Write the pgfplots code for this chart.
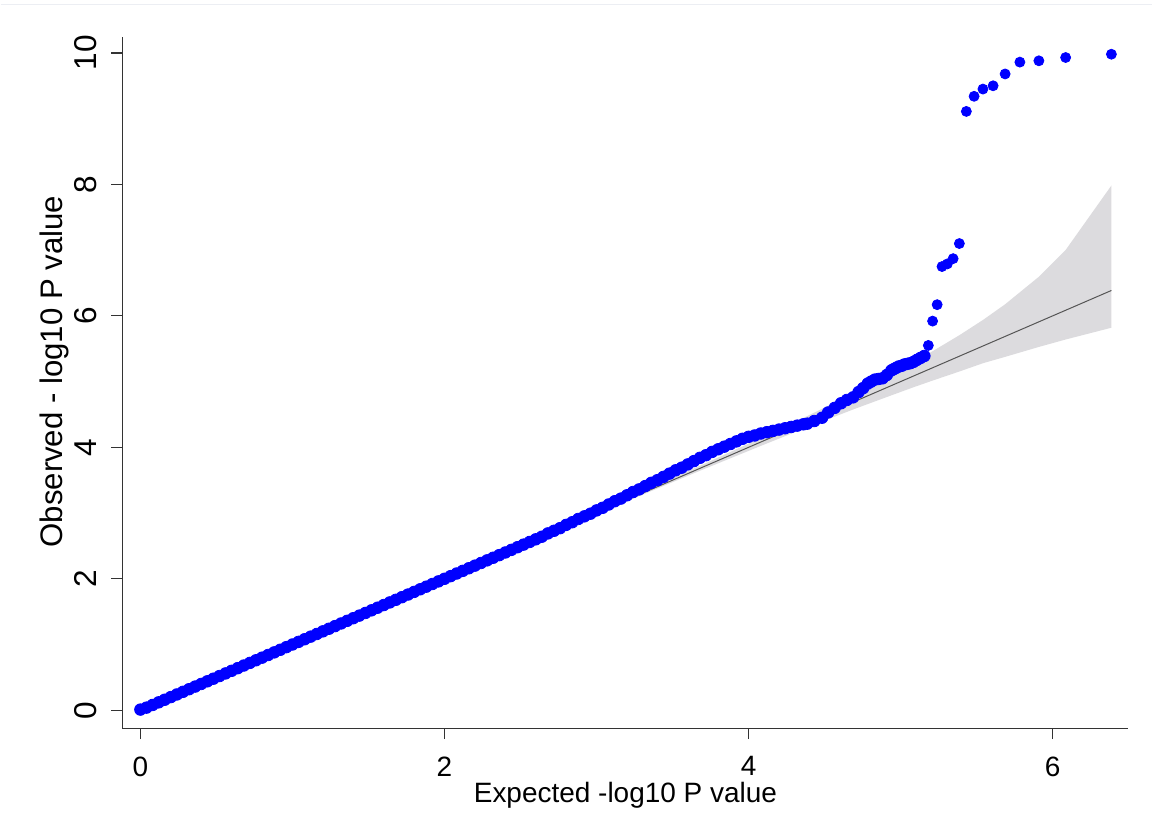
\documentclass[border=0pt]{standalone}
\usepackage{pgfplots}
\pgfplotsset{compat=1.18}
\usepackage{fontspec}
\setmainfont{Liberation Sans}
\definecolor{bandgray}{RGB}{220,219,222}
\definecolor{linegray}{RGB}{85,85,85}
\definecolor{axgray}{RGB}{51,51,51}
\definecolor{ptblue}{RGB}{0,0,255}

\pgfplotstableread{
x y
0.00 0.01
0.04 0.04
0.08 0.08
0.12 0.12
0.16 0.16
0.20 0.20
0.24 0.24
0.28 0.28
0.32 0.32
0.36 0.36
0.40 0.40
0.44 0.44
0.48 0.48
0.52 0.52
0.56 0.56
0.60 0.60
0.64 0.64
0.68 0.68
0.72 0.72
0.76 0.76
0.80 0.80
0.84 0.84
0.88 0.88
0.92 0.92
0.96 0.96
1.00 1.00
1.04 1.04
1.08 1.08
1.12 1.12
1.16 1.16
1.20 1.20
1.24 1.24
1.28 1.28
1.32 1.32
1.36 1.36
1.40 1.40
1.44 1.44
1.48 1.48
1.52 1.52
1.56 1.56
1.60 1.60
1.64 1.64
1.68 1.68
1.72 1.72
1.76 1.76
1.80 1.80
1.84 1.84
1.88 1.88
1.92 1.92
1.96 1.96
2.00 2.00
2.04 2.04
2.08 2.08
2.12 2.12
2.16 2.16
2.20 2.20
2.24 2.24
2.28 2.28
2.32 2.32
2.36 2.36
2.40 2.40
2.44 2.44
2.48 2.48
2.52 2.52
2.56 2.56
2.60 2.60
2.64 2.64
2.68 2.69
2.72 2.73
2.76 2.77
2.80 2.82
2.84 2.86
2.88 2.91
2.92 2.95
2.96 2.99
3.00 3.04
3.04 3.08
3.08 3.13
3.12 3.18
3.16 3.22
3.20 3.27
3.24 3.32
3.28 3.36
3.32 3.41
3.36 3.46
3.40 3.50
3.44 3.55
3.48 3.60
3.52 3.65
3.56 3.69
3.60 3.74
3.64 3.79
3.68 3.84
3.72 3.88
3.76 3.93
3.80 3.97
3.84 4.01
3.88 4.05
3.92 4.09
3.96 4.13
4.00 4.16
4.04 4.18
4.08 4.21
4.12 4.23
4.16 4.25
4.20 4.27
4.24 4.29
4.28 4.31
4.32 4.33
4.36 4.35
4.386 4.36
4.432 4.40
4.483 4.45
4.523 4.53
4.566 4.60
4.608 4.67
4.646 4.72
4.687 4.76
4.723 4.84
4.753 4.90
4.784 4.97
4.806 5.00
4.830 5.03
4.855 5.04
4.881 5.05
4.909 5.10
4.939 5.17
4.955 5.19
4.971 5.21
4.988 5.23
5.006 5.24
5.024 5.26
5.044 5.27
5.064 5.28
5.085 5.30
5.107 5.33
5.131 5.36
5.156 5.39
}\dense

\pgfplotstableread{
x y
5.182 5.55
5.210 5.92
5.240 6.17
5.272 6.75
5.307 6.79
5.345 6.87
5.386 7.10
5.432 9.11
5.483 9.34
5.541 9.45
5.608 9.50
5.687 9.68
5.784 9.86
5.909 9.88
6.085 9.93
6.386 9.98
}\tail

\begin{document}
\begin{tikzpicture}
\begin{axis}[
  scale only axis, width=503.5pt, height=346pt,
  xmin=-0.118, xmax=6.498, ymin=-0.274, ymax=10.243,
  axis x line=bottom, axis y line=left,
  axis line style={-, draw=axgray, line width=0.65pt},
  every tick/.style={draw=axgray, line width=0.65pt},
  tick align=outside, major tick length=5.5pt,
  xtick={0,2,4,6}, ytick={0,2,4,6,8,10},
  minor tick num=0,
  font=\fontsize{14}{16}\selectfont,
  /pgf/number format/assume math mode=true,
  xticklabel style={anchor=north, inner sep=0pt, yshift=-8.5pt},
  yticklabel style={font=\fontsize{15.8}{18}\selectfont, xshift=-7.2pt, rotate=90, anchor=south, inner sep=0pt},
  xlabel={Expected -log10 P value},
  ylabel={Observed - log10 P value},
  every axis x label/.style={at={(axis description cs:0.5,0)}, anchor=north, inner sep=0pt, yshift=-27pt},
  every axis y label/.style={at={(axis description cs:0,0.5)}, xshift=-26.5pt, yshift=5.5pt, rotate=90, anchor=south, inner sep=0pt, font=\fontsize{15.6}{18}\selectfont},
  clip=false,
]
\addplot[fill=bandgray, draw=none] coordinates {
 (0,0) (2.386,2.394) (2.909,2.925) (3.386,3.414) (3.687,3.726) (4.085,4.146)
 (4.386,4.476) (4.687,4.817) (4.909,5.080) (5.085,5.299) (5.210,5.462)
 (5.386,5.705) (5.541,5.937) (5.687,6.176) (5.909,6.595) (6.085,7.002) (6.386,7.983)
 (6.386,5.819) (6.085,5.640) (5.909,5.527) (5.687,5.376) (5.541,5.279)
 (5.386,5.153) (5.210,5.015) (5.085,4.914) (4.909,4.765) (4.687,4.575)
 (4.386,4.305) (4.085,4.026) (3.687,3.650) (3.386,3.360) (2.909,2.894)
 (2.386,2.378) (0,0)
} -- cycle;
\addplot[linegray, line width=0.5pt] coordinates {(0,0) (6.386,6.386)};
\addplot[only marks, mark=*, mark size=2.9pt, color=ptblue] table {\dense};
\addplot[only marks, mark=*, mark size=2.5pt, color=ptblue] table {\tail};
\coordinate (ll) at (rel axis cs:0,0);
\coordinate (ur) at (rel axis cs:1,1);
\end{axis}
\pgfresetboundingbox
\path ([shift={(-61pt,-55pt)}]ll) rectangle ([shift={(12pt,18.5pt)}]ur);
\draw[color={rgb,255:red,236;green,238;blue,243}, line width=0.6pt]
  ([shift={(-61pt,16.2pt)}]ll |- ur) -- ([shift={(12pt,16.2pt)}]ur);
\end{tikzpicture}
\end{document}
